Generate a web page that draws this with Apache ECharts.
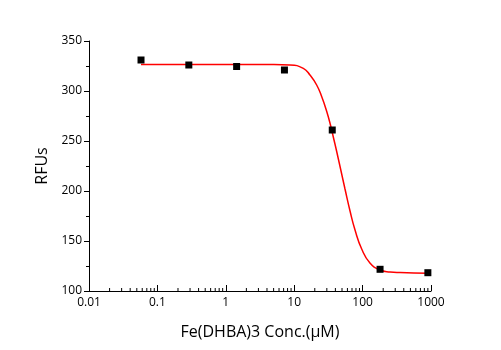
<!DOCTYPE html>
<html>
<head>
<meta charset="utf-8">
<script src="https://cdn.jsdelivr.net/npm/echarts@6/dist/echarts.min.js"></script>
<style>html,body{margin:0;padding:0;background:#fff}#c{width:501px;height:350px}</style>
</head>
<body>
<div id="c"></div>
<script>
// Measured data (concentration in µM, RFU)
const concentrations = [0.0576, 0.288, 1.44, 7.2, 36, 180, 900];
const rfuValues = [331, 326, 324.5, 321, 261, 121.7, 118.3];

// Fitted curve
const curveX = [0.0576, 0.3, 1.5, 4.43, 8.69, 13.6, 17.0, 21.3, 25.2, 29.9, 34.2, 37.3, 41.8, 50.0, 55.3, 65.5, 77.5, 97.0, 128, 180, 252, 352, 900];
const curveY = [326.6, 326.6, 326.5, 326.4, 326, 322.7, 316, 306, 294.5, 279.5, 265, 254, 239.5, 215.5, 202, 180, 161, 142, 128, 121, 119, 118.4, 117.7];

// Axis ticks
const xTickLabels = [0.01, 0.1, 1, 10, 100, 1000];
const yMin = 100, yMax = 350, yStep = 50;
const minorMultipliers = [2, 3, 4, 5, 6, 7, 8, 9];

const minorTickValues = [];
for (let i = 0; i < xTickLabels.length - 1; i++) {
  for (const m of minorMultipliers) minorTickValues.push([xTickLabels[i] * m, yMin]);
}

const font = '"Open Sans", "Liberation Sans", sans-serif';
const chart = echarts.init(document.getElementById('c'), null, {renderer: 'canvas'});
chart.setOption({
  animation: false,
  backgroundColor: '#ffffff',
  grid: {left: 89, right: 70, top: 41, bottom: 59, containLabel: false},
  xAxis: {
    type: 'log', logBase: 10, min: 0.01, max: 1000,
    name: 'Fe(DHBA)3 Conc.(μM)', nameLocation: 'middle', nameGap: 33,
    nameTextStyle: {fontFamily: font, fontSize: 16, color: '#000'},
    axisLine: {lineStyle: {color: '#000', width: 1}},
    axisTick: {inside: true, length: 6, lineStyle: {color: '#000'}},
    axisLabel: {fontFamily: font, fontSize: 12, color: '#000', margin: 6,
      formatter: v => String(+v.toPrecision(6))},
    splitLine: {show: false}
  },
  yAxis: {
    type: 'value', min: yMin, max: yMax, interval: yStep,
    name: 'RFUs', nameLocation: 'middle', nameGap: 38, nameRotate: 90,
    nameTextStyle: {fontFamily: font, fontSize: 16, color: '#000'},
    axisLine: {show: true, lineStyle: {color: '#000', width: 1}},
    axisTick: {show: true, inside: false, length: 5, lineStyle: {color: '#000'}},
    minorTick: {show: true, splitNumber: 2, length: 3, lineStyle: {color: '#000'}},
    axisLabel: {fontFamily: font, fontSize: 12, color: '#000', margin: 7},
    splitLine: {show: false}
  },
  series: [
    {
      type: 'custom', silent: true, z: 1,
      data: minorTickValues,
      renderItem: (params, api) => {
        const p = api.coord([api.value(0), api.value(1)]);
        return {type: 'line', shape: {x1: p[0], y1: p[1], x2: p[0], y2: p[1] - 3},
          style: {stroke: '#000', lineWidth: 1}};
      }
    },
    {
      type: 'line', z: 2,
      data: curveX.map((x, i) => [x, curveY[i]]),
      smooth: 0.5, showSymbol: false, symbol: 'none',
      lineStyle: {color: '#ff0000', width: 1.5}
    },
    {
      type: 'scatter', z: 3,
      data: concentrations.map((x, i) => [x, rfuValues[i]]),
      symbol: 'rect', symbolSize: 7,
      itemStyle: {color: '#000', opacity: 1}
    }
  ]
});
</script>
</body>
</html>
